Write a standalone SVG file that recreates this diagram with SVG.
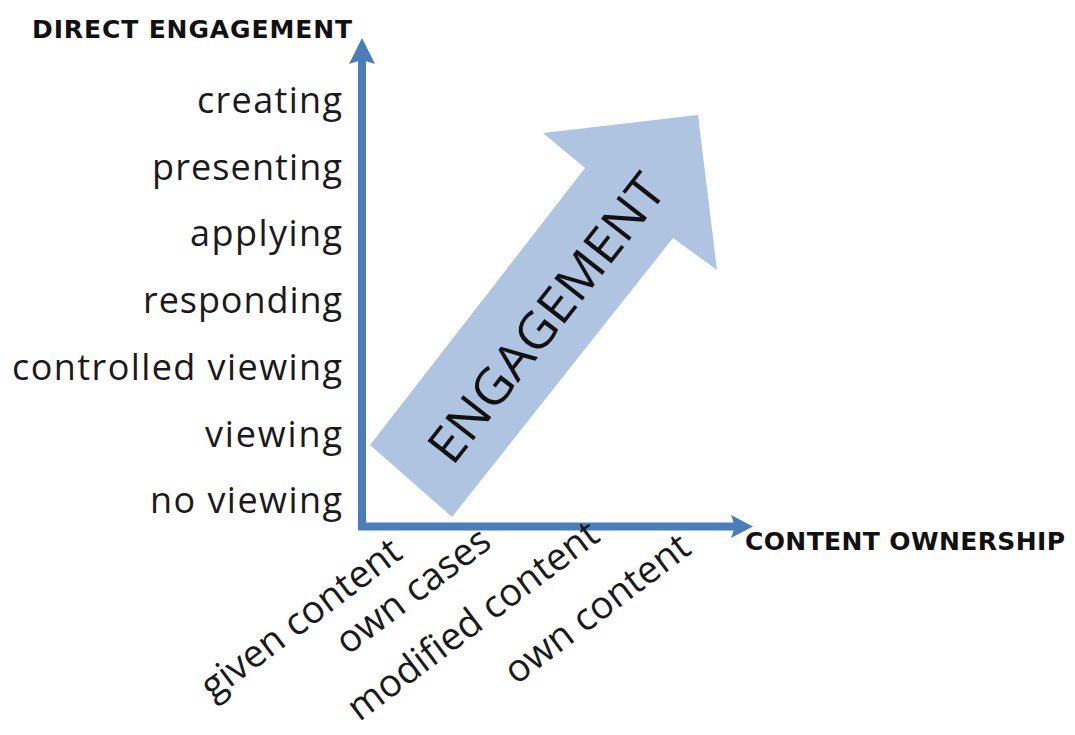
<svg xmlns="http://www.w3.org/2000/svg" width="1075" height="735" viewBox="0 0 1075 735">
<style>
.lbl{font-family:"Open Sans","Liberation Sans",sans-serif;font-size:36px;fill:#1a1a1a}
.rot{font-family:"Open Sans","Liberation Sans",sans-serif;font-size:38px;fill:#1a1a1a}
.big{font-family:"Open Sans","Liberation Sans",sans-serif;font-size:50px;fill:#111}
.ttl{font-family:"DejaVu Sans","Liberation Sans",sans-serif;font-weight:bold;font-size:25px;fill:#111}
.axis{stroke:#4a7ebb;stroke-width:8;fill:none}
.head{fill:#4a7ebb}
</style>
<rect width="1075" height="735" fill="#fff"/>
<g id="engagement-arrow">
<polygon points="370,445 585,168 543,133 698,115 717,270 673,238 452,517" fill="#aec4e1"/>
<text class="big" text-anchor="middle" textLength="350" lengthAdjust="spacingAndGlyphs" transform="translate(546,318) rotate(-52)" x="0" y="18">ENGAGEMENT</text>
</g>
<g id="connectors">
<line class="axis" x1="362" y1="530" x2="362" y2="60"/>
<polygon class="head" points="362,38 375,64 362,60 349,64"/>
<line class="axis" x1="358" y1="526.5" x2="735" y2="526.5"/>
<polygon class="head" points="753,526.5 731,538 735,526.5 731,515"/>
</g>
<g id="y-title"><text class="ttl" x="32" y="38" textLength="320">DIRECT ENGAGEMENT</text></g>
<g id="x-title"><text class="ttl" x="745" y="550" textLength="320">CONTENT OWNERSHIP</text></g>
<g id="y-labels">
<text class="lbl" x="342" y="113" text-anchor="end" textLength="145">creating</text>
<text class="lbl" x="342" y="180" text-anchor="end" textLength="190">presenting</text>
<text class="lbl" x="342" y="246" text-anchor="end" textLength="152">applying</text>
<text class="lbl" x="342" y="313" text-anchor="end" textLength="199">responding</text>
<text class="lbl" x="342" y="380" text-anchor="end" textLength="330">controlled viewing</text>
<text class="lbl" x="342" y="447" text-anchor="end" textLength="137">viewing</text>
<text class="lbl" x="342" y="513" text-anchor="end" textLength="192">no viewing</text>
</g>
<g id="x-labels">
<text class="rot" text-anchor="middle" transform="translate(302,620) rotate(-37)" y="11">given content</text>
<text class="rot" text-anchor="middle" transform="translate(414,592) rotate(-37)" y="11">own cases</text>
<text class="rot" text-anchor="middle" transform="translate(474,622) rotate(-37)" y="11">modified content</text>
<text class="rot" text-anchor="middle" transform="translate(598,610) rotate(-37)" y="11">own content</text>
</g>
</svg>
